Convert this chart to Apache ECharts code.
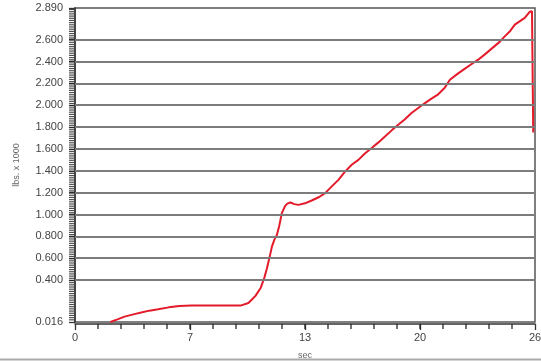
<!DOCTYPE html>
<html>
<head>
<meta charset="utf-8">
<script src="https://cdn.jsdelivr.net/npm/echarts@6/dist/echarts.min.js"></script>
<style>
html,body{margin:0;padding:0;background:#fff;}
#c{width:541px;height:361px;}
</style>
</head>
<body>
<div id="c"></div>
<script>
// time (sec)
var times = [2.0, 2.4, 2.8, 3.3, 3.8, 4.2, 4.7, 5.3, 5.9, 6.6, 7.5, 8.5, 9.4, 9.8, 10.0, 10.2, 10.5, 10.7, 10.85, 11.0, 11.13, 11.27, 11.41, 11.55, 11.69, 11.88, 12.0, 12.17, 12.4, 12.63, 13.0, 13.38, 13.8, 14.14, 14.5, 14.89, 15.25, 15.64, 16.02, 16.4, 16.77, 17.15, 17.52, 17.9, 18.27, 18.65, 19.02, 19.4, 19.78, 20.15, 20.53, 20.9, 21.19, 21.6, 22.0, 22.4, 22.79, 23.2, 23.6, 24.0, 24.29, 24.6, 24.86, 25.15, 25.42, 25.7, 25.83, 25.9];
// load (lbs x 1000)
var loads = [0.016, 0.040, 0.065, 0.086, 0.105, 0.120, 0.132, 0.150, 0.163, 0.168, 0.168, 0.168, 0.168, 0.190, 0.222, 0.255, 0.330, 0.420, 0.508, 0.610, 0.706, 0.770, 0.813, 0.900, 1.012, 1.079, 1.100, 1.110, 1.095, 1.088, 1.102, 1.128, 1.160, 1.196, 1.255, 1.317, 1.390, 1.455, 1.500, 1.560, 1.608, 1.660, 1.714, 1.770, 1.822, 1.872, 1.929, 1.975, 2.020, 2.060, 2.100, 2.160, 2.234, 2.285, 2.330, 2.375, 2.417, 2.470, 2.525, 2.580, 2.630, 2.680, 2.738, 2.770, 2.800, 2.855, 2.860, 1.750];
// y tick labels
var yTicks = [0.016, 0.4, 0.6, 0.8, 1.0, 1.2, 1.4, 1.6, 1.8, 2.0, 2.2, 2.4, 2.6, 2.89];
// x tick labels (positions)
var xTicks = [0, 6.5, 13, 19.5, 26];
var xMin = 0, xMax = 26, xMinorStep = 1.3;
var yMin = 0.016, yMax = 2.89, yMinorStep = 0.02;

var xMinor = [];
for (var k = 1; k * xMinorStep < xMax - 1e-6; k++) xMinor.push(+(k * xMinorStep).toFixed(3));
var yMinor = [];
for (var j = 1; yMin + j * yMinorStep < yMax - 1e-6; j++) yMinor.push(+(yMin + j * yMinorStep).toFixed(3));

var data = times.map(function (t, i) { return [t, loads[i]]; });
var gridLines = yTicks.filter(function (v) { return v > yMin && v < yMax; })
  .map(function (v) { return { yAxis: v }; });

var chart = echarts.init(document.getElementById('c'));
var font = 'Liberation Sans, Arial, sans-serif';

chart.setOption({
  animation: false,
  backgroundColor: '#fff',
  grid: {
    left: 75, right: 6, top: 8, bottom: 39,
    containLabel: false, outerBoundsMode: 'none',
    show: true, borderColor: '#555', borderWidth: 1.5, backgroundColor: 'transparent'
  },
  xAxis: {
    type: 'value', min: xMin, max: xMax, offset: 2,
    name: 'sec', nameLocation: 'middle', nameGap: 27,
    nameTextStyle: { color: '#666', fontSize: 9, fontFamily: font },
    axisLine: { show: true, lineStyle: { color: '#333', width: 1.5 } },
    axisTick: { show: true, length: 6, customValues: xTicks, lineStyle: { color: '#333', width: 1.3 } },
    axisLabel: { color: '#444', fontSize: 11, fontFamily: font, margin: 8, customValues: xTicks,
      formatter: function (v) { return String(Math.round(v)); } },
    splitLine: { show: false }
  },
  yAxis: {
    type: 'value', min: yMin, max: yMax,
    name: 'lbs. x 1000', nameLocation: 'middle', nameGap: 54,
    nameTextStyle: { color: '#666', fontSize: 9, fontFamily: font },
    axisLine: { show: true, lineStyle: { color: '#333', width: 1.5 } },
    axisTick: { show: true, length: 6, customValues: yTicks, lineStyle: { color: '#333', width: 1.3 } },
    axisLabel: { color: '#444', fontSize: 11, fontFamily: font, margin: 12, customValues: yTicks,
      formatter: function (v) { return v.toFixed(3); } },
    splitLine: { show: false }
  },
  graphic: [{
    type: 'line', shape: { x1: 0, y1: 359.5, x2: 541, y2: 359.5 },
    style: { stroke: '#aaa', lineWidth: 2 }, silent: true
  }],
  series: [{
    type: 'line', data: data, showSymbol: false, smooth: false,
    lineStyle: { color: '#e31b2a', width: 2 },
    markLine: {
      silent: true, symbol: 'none', label: { show: false },
      lineStyle: { color: '#7c7c7c', width: 1.8, type: 'solid' },
      data: gridLines, animation: false
    },
    z: 3
  }, {
    // minor ticks on the y axis
    type: 'scatter', clip: false, z: 10,
    data: yMinor.map(function (v) { return [xMin, v]; }),
    symbol: 'rect', symbolSize: [5, 1.2], symbolOffset: [-3.5, 0],
    itemStyle: { color: '#222' }
  }, {
    // minor ticks on the x axis
    type: 'scatter', clip: false, z: 10,
    data: xMinor.map(function (v) { return [v, yMin]; }),
    symbol: 'rect', symbolSize: [1.6, 5], symbolOffset: [0, 4.5],
    itemStyle: { color: '#222' }
  }]
});
</script>
</body>
</html>
